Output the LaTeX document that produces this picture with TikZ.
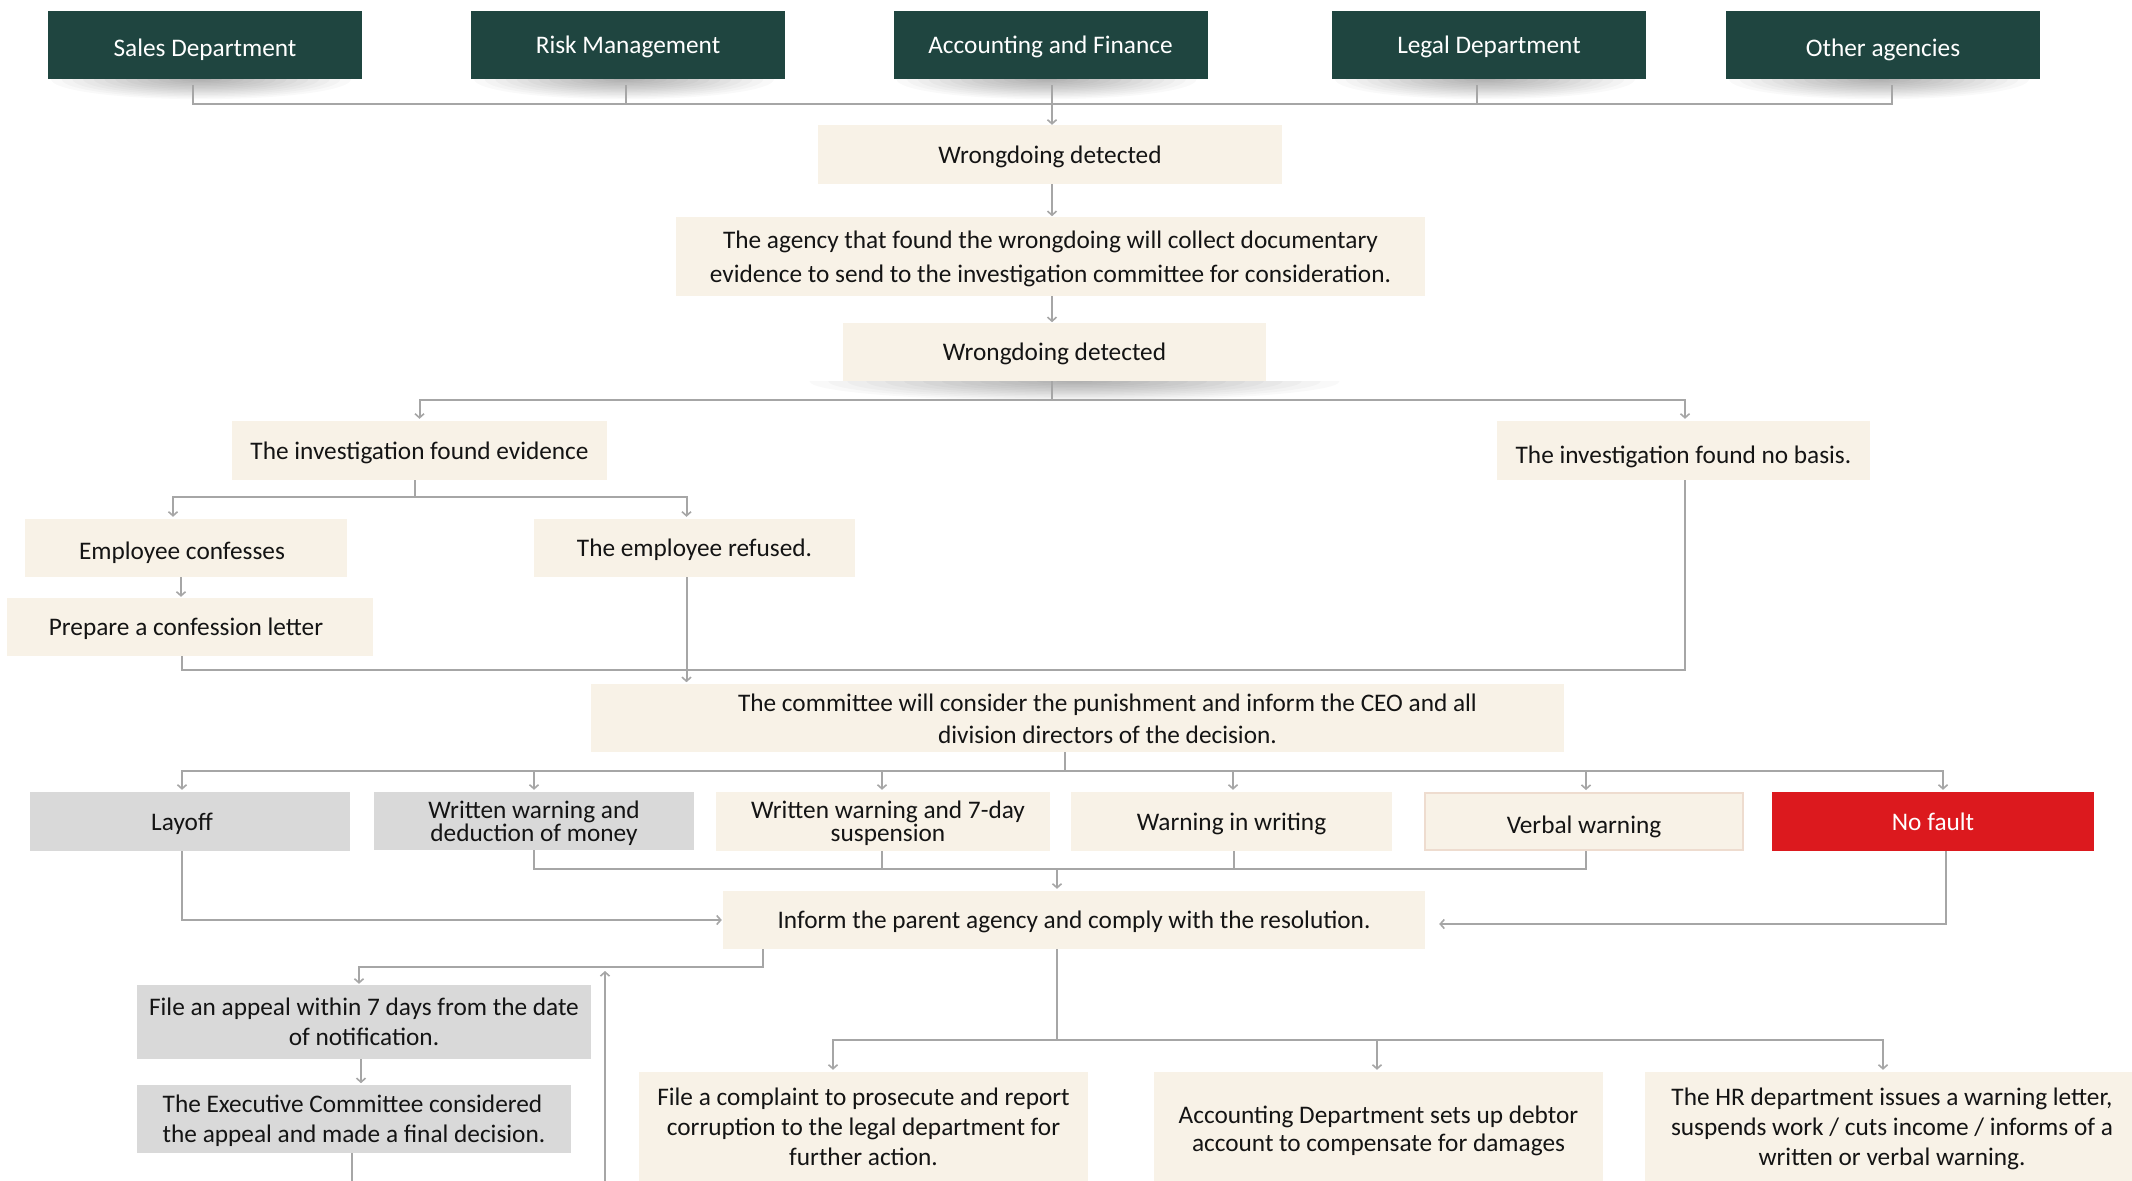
\documentclass[tikz,border=0pt]{standalone}
\usepackage{fontspec}
\setmainfont{Carlito}
\usetikzlibrary{arrows.meta,calc}
\definecolor{dkgreen}{HTML}{1F4540}
\definecolor{cream}{HTML}{F8F2E7}
\definecolor{lgray}{HTML}{D9D9D9}
\definecolor{nfred}{HTML}{DC191E}
\definecolor{lncol}{HTML}{A6A6A6}
\definecolor{vborder}{HTML}{EEDCCF}
\definecolor{txt}{HTML}{141414}
\newcommand{\boxshade}[4]{%
  \begin{scope}
    \clip ([xshift=-#4]#1.south west) rectangle ([xshift=#4,yshift=-24pt]#1.south east);
    \foreach \k in {1,...,14} {
      \fill[black, opacity=0.022] ([xshift=#2]#1.south) ellipse [x radius={#3*\k/14}, y radius={20pt*\k/14}];
    }
  \end{scope}}
\begin{document}
\begin{tikzpicture}[x=1pt,y=-1pt,
  box/.style={rectangle, inner sep=0pt, align=center, font=\fontsize{25.3}{30}\selectfont, text=txt, text depth=0pt},
  topbox/.style={box, fill=dkgreen, text=white, minimum width=314pt, minimum height=68pt},
  cbox/.style={box, fill=cream},
  gbox/.style={box, fill=lgray},
  ln/.style={draw=lncol, line width=2pt},
  arr/.style={ln, -{Straight Barb[length=4pt,width=9pt,line width=1.6pt]}},
]
\useasboundingbox (0,0) rectangle (2132,1180);
\fill[white] (0,0) rectangle (2132,1180);

% top row
\node[topbox, text height=24pt] (sales) at (205,45) {Sales Department};
\node[topbox] (risk) at (628,45) {Risk Management};
\node[topbox] (acc) at (1050.5,45) {Accounting and Finance};
\node[topbox] (legal) at (1489,45) {Legal Department};
\node[topbox, text height=24pt] (other) at (1883,45) {Other agencies};

\node[cbox, minimum width=464pt, minimum height=59pt] (wd1) at (1050,154.5) {Wrongdoing detected};
\node[cbox, minimum width=749pt, minimum height=79pt, font=\fontsize{25.3}{34}\selectfont] (agency) at (1050.5,256.5) {The agency that found the wrongdoing will collect documentary\\evidence to send to the investigation committee for consideration.};
\node[cbox, minimum width=423pt, minimum height=58pt] (wd2) at (1054.5,352) {Wrongdoing detected};

\node[cbox, minimum width=375pt, minimum height=59pt] (evid) at (419.5,450.5) {The investigation found evidence};
\node[cbox, minimum width=373pt, minimum height=59pt, text height=26pt] (nobasis) at (1683.5,450.5) {The investigation found no basis.};
\node[cbox, minimum width=322pt, minimum height=58pt, text height=22pt] (confess) at (186,548) {Employee confesses\hspace*{8pt}};
\node[cbox, minimum width=321pt, minimum height=58pt] (refused) at (694.5,548) {The employee refused.};
\node[cbox, minimum width=366pt, minimum height=58pt] (prepare) at (190,627) {Prepare a confession letter\hspace*{8pt}};

\node[cbox, minimum width=973pt, minimum height=68pt] (committee) at (1077.5,718) {};
\node[box, font=\fontsize{25.3}{32}\selectfont] (committeetext) at ([xshift=30pt,yshift=-1pt]committee.center) {The committee will consider the punishment and inform the CEO and all\\division directors of the decision.};

% punishment row
\node[gbox, minimum width=320pt, minimum height=59pt] (layoff) at (190,821.5) {Layoff\hspace*{16pt}};
\node[gbox, minimum width=320pt, minimum height=58pt, font=\fontsize{25.3}{21}\selectfont] (wwded) at (534,821) {Written warning and\\deduction of money};
\node[cbox, minimum width=334pt, minimum height=59pt, font=\fontsize{25.3}{23}\selectfont] (ww7) at (883,821.5) {\hspace*{10pt}Written warning and 7-day\\\hspace*{10pt}suspension};
\node[cbox, minimum width=321pt, minimum height=59pt] (wiw) at (1231.5,821.5) {Warning in writing};
\node[cbox, draw=vborder, line width=2pt, minimum width=318pt, minimum height=57pt, text height=24pt] (verbal) at (1584,821.5) {Verbal warning};
\node[box, fill=nfred, text=white, minimum width=322pt, minimum height=59pt] (nofault) at (1933,821.5) {No fault};

% lower part
\node[cbox, minimum width=702pt, minimum height=58pt] (inform) at (1074,920) {Inform the parent agency and comply with the resolution.};
\node[gbox, minimum width=454pt, minimum height=74pt] (appeal) at (364,1022) {File an appeal within 7 days from the date\\of notification.};
\node[gbox, minimum width=434pt, minimum height=68pt, align=left] (exec) at (354,1119) {The Executive Committee considered\\the appeal and made a final decision.};
\node[cbox, minimum width=449pt, minimum height=110pt] (complaint) at (863.5,1127) {File a complaint to prosecute and report\\corruption to the legal department for\\further action.};
\node[cbox, minimum width=449pt, minimum height=114pt, font=\fontsize{25.3}{28}\selectfont] (acc2) at (1378.5,1129) {Accounting Department sets up debtor\\account to compensate for damages};
\node[cbox, minimum width=494pt, minimum height=110pt] (hr) at (1892,1127) {The HR department issues a warning letter,\\suspends work / cuts income / informs of a\\written or verbal warning.};

% shadows
\boxshade{sales}{-4pt}{150pt}{0pt}
\boxshade{risk}{-4pt}{150pt}{0pt}
\boxshade{acc}{-4pt}{150pt}{0pt}
\boxshade{legal}{-4pt}{150pt}{0pt}
\boxshade{other}{-4pt}{150pt}{0pt}
\boxshade{wd2}{20pt}{265pt}{80pt}

% connectors: top
\draw[ln] ([xshift=-12pt,yshift=-6pt]sales.south) |- ([xshift=9pt,yshift=-25pt]other.south) -- ([xshift=9pt,yshift=-6pt]other.south);
\draw[ln] ([xshift=-2pt,yshift=-6pt]risk.south) -- ++(0,19);
\draw[ln] ([xshift=-12pt,yshift=-6pt]legal.south) -- ++(0,19);
\draw[arr] ([xshift=1.5pt,yshift=-6pt]acc.south) -- ([xshift=2pt]wd1.north);
\draw[arr] ([xshift=2pt]wd1.south) -- ++(0,32);
\draw[arr] ([xshift=1.5pt]agency.south) -- ++(0,26);
\draw[arr] ([xshift=-2.5pt]wd2.south) -- ++(0,19) -| ([yshift=2pt]evid.north);
\draw[arr] ([xshift=-2.5pt]wd2.south) ++(0,19) -| ([xshift=1.5pt,yshift=2pt]nobasis.north);

% evidence branch
\draw[arr] ([xshift=-4.5pt]evid.south) -- ++(0,17) -| ([xshift=-13pt,yshift=2pt]confess.north);
\draw[arr] ([xshift=-4.5pt]evid.south) ++(0,17) -| ([xshift=-8pt,yshift=2pt]refused.north);
\draw[arr] ([xshift=-5pt]confess.south) -- ([xshift=-9pt,yshift=1pt]prepare.north);
\draw[ln] ([xshift=-8pt]prepare.south) -- ++(0,14) -| ([xshift=1pt]nobasis.south);
\draw[arr] ([xshift=-8pt]refused.south) -- ++(0,105);

% committee to punishments
\draw[ln] ([xshift=-12.5pt]committee.south) -- ++(0,19) coordinate (cb);
\draw[arr] (cb) -| ([xshift=-8pt,yshift=2pt]layoff.north);
\draw[arr] (cb) -| ([yshift=2pt]wwded.north);
\draw[arr] (cb) -| ([xshift=-1pt,yshift=2pt]ww7.north);
\draw[arr] (cb) -| ([xshift=1.5pt,yshift=2pt]wiw.north);
\draw[arr] (cb) -| ([xshift=2pt,yshift=2pt]verbal.north);
\draw[arr] (cb) -| ([xshift=10pt,yshift=2pt]nofault.north);

% punishments to inform
\draw[ln] (wwded.south) -- ++(0,19) -| ([xshift=2pt]verbal.south);
\draw[ln] ([xshift=-1pt]ww7.south) -- ++(0,18.5);
\draw[ln] ([xshift=2.5pt]wiw.south) -- ++(0,18.5);
\draw[arr] ([xshift=-17pt]inform.north) ++(0,-21) -- ([xshift=-17pt,yshift=2pt]inform.north);
\draw[arr] ([xshift=-8pt]layoff.south) |- ([xshift=-1pt]inform.west);
\draw[arr] ([xshift=13pt]nofault.south) |- ([xshift=14pt,yshift=-4pt]inform.east);

% appeal branch
\draw[arr] ([xshift=-311pt]inform.south) -- ++(0,18) -| ([xshift=-5pt,yshift=1pt]appeal.north);
\draw[arr] ([xshift=-3pt]appeal.south) -- ++(0,24);
\draw[ln] ([xshift=-2pt]exec.south) -- ++(0,30);
\coordinate (upb) at (605,1185);
\coordinate (upt) at (605,971);
\draw[arr] (upb) -- (upt);

% inform to actions
\draw[ln] ([xshift=-17pt]inform.south) -- ++(0,91) coordinate (lb);
\draw[arr] (lb) -| ([xshift=-30.5pt,yshift=2pt]complaint.north);
\draw[arr] (lb) -| ([xshift=-1.5pt,yshift=2pt]acc2.north);
\draw[arr] (lb) -| ([xshift=-9pt,yshift=2pt]hr.north);
\end{tikzpicture}
\end{document}
